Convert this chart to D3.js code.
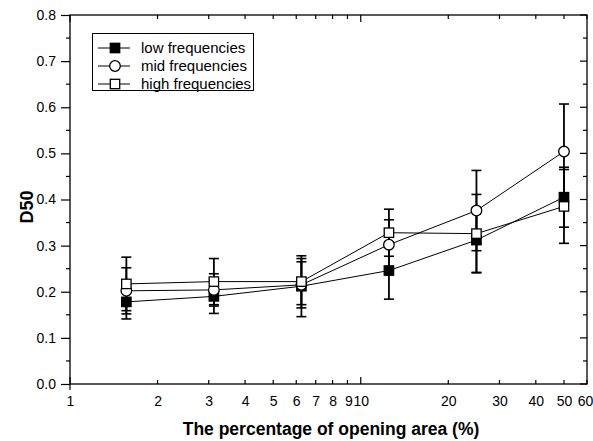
<!DOCTYPE html>
<html><head><meta charset="utf-8">
<script src="https://cdn.jsdelivr.net/npm/d3@7"></script>
<style>body{margin:0;background:#fff}svg{display:block}text{font-family:"Liberation Sans",Arial,sans-serif}</style>
</head><body><svg id="c" width="593" height="441"></svg>
<script>
const xVals = [1.5625, 3.125, 6.25, 12.5, 25, 50];
const low = [0.178, 0.190, 0.212, 0.246, 0.312, 0.405];
const lowErr = [0.037, 0.037, 0.066, 0.062, 0.070, 0.065];
const mid = [0.202, 0.204, 0.215, 0.302, 0.376, 0.504];
const midErr = [0.050, 0.035, 0.050, 0.054, 0.087, 0.103];
const high = [0.217, 0.222, 0.222, 0.328, 0.326, 0.385];
const highErr = [0.058, 0.050, 0.050, 0.051, 0.085, 0.080];
const seriesNames = ["low frequencies", "mid frequencies", "high frequencies"];
const xTicks = [1,2,3,4,5,6,7,8,9,10,20,30,40,50,60];
const yTicks = [0,0.1,0.2,0.3,0.4,0.5,0.6,0.7,0.8];
const yMinor = [0.05,0.15,0.25,0.35,0.45,0.55,0.65,0.75];

const L=70, R=587, T=15, B=384;
const svg = d3.select("#c");
const x = d3.scaleLog().domain([1,60]).range([L,R]);
const y = d3.scaleLinear().domain([0,0.8]).range([B,T]);

// frame
svg.append("rect").attr("x",L).attr("y",T).attr("width",R-L).attr("height",B-T)
  .attr("fill","none").attr("stroke","#000").attr("stroke-width",1.3);

// left axis
const yAxis = d3.axisLeft(y).tickValues(yTicks).tickSize(9).tickPadding(5).tickFormat(d3.format(".1f"));
const gy = svg.append("g").attr("transform",`translate(${L},0)`).call(yAxis);
gy.select(".domain").remove();
gy.selectAll("text").attr("font-size",14).attr("fill","#000");
gy.selectAll("line").attr("stroke-width",1.2);
svg.append("g").selectAll("line").data(yMinor).join("line")
  .attr("x1",L-4).attr("x2",L).attr("y1",d=>y(d)).attr("y2",d=>y(d)).attr("stroke","#000").attr("stroke-width",1.2);
// right axis ticks inward
svg.append("g").selectAll("line").data(yTicks.concat(yMinor)).join("line")
  .attr("x1",d=>R-(yTicks.includes(d)?7:4)).attr("x2",R).attr("y1",d=>y(d)).attr("y2",d=>y(d))
  .attr("stroke","#000").attr("stroke-width",1.2);

// bottom axis
const xAxis = d3.axisBottom(x).tickValues(xTicks).tickSize(0).tickPadding(12).tickFormat(d3.format("d"));
const gx = svg.append("g").attr("transform",`translate(0,${B})`).call(xAxis);
gx.select(".domain").remove();
gx.selectAll("text").attr("font-size",14).attr("fill","#000")
  .attr("dx",d=>d===60?-2:(d===9?1:0));
svg.append("g").selectAll("line").data(xTicks).join("line")
  .attr("x1",d=>x(d)).attr("x2",d=>x(d)).attr("y1",B).attr("y2",d=>B-((d===1||d===10)?7:4))
  .attr("stroke","#000").attr("stroke-width",1.2);
svg.append("line").attr("x1",L).attr("x2",L).attr("y1",B).attr("y2",B+6).attr("stroke","#000").attr("stroke-width",1.2);
// top axis ticks inward
svg.append("g").selectAll("line").data(xTicks).join("line")
  .attr("x1",d=>x(d)).attr("x2",d=>x(d)).attr("y1",T).attr("y2",d=>T+((d===1||d===10)?7:4))
  .attr("stroke","#000").attr("stroke-width",1.2);

// axis titles
svg.append("text").attr("x",331).attr("y",435).attr("text-anchor","middle")
  .attr("font-size",17.5).attr("font-weight","bold").text("The percentage of opening area (%)");
svg.append("text").attr("transform","translate(33,207) rotate(-90)").attr("text-anchor","middle")
  .attr("font-size",18).attr("font-weight","bold").text("D50");

const series = [
  {name:seriesNames[0], v:low, e:lowErr, shape:"fsq"},
  {name:seriesNames[1], v:mid, e:midErr, shape:"circ"},
  {name:seriesNames[2], v:high, e:highErr, shape:"osq"}
];

// error bars
series.forEach(s=>{
  const g = svg.append("g");
  xVals.forEach((xv,i)=>{
    const cx = x(xv), top=y(s.v[i]+s.e[i]), bot=y(s.v[i]-s.e[i]);
    g.append("line").attr("x1",cx).attr("x2",cx).attr("y1",top).attr("y2",bot).attr("stroke","#000").attr("stroke-width",1.8);
    [top,bot].forEach(yy=>g.append("line").attr("x1",cx-5).attr("x2",cx+5).attr("y1",yy).attr("y2",yy).attr("stroke","#000").attr("stroke-width",1.6));
  });
});
// lines
const line = d3.line().x((d,i)=>x(xVals[i])).y(d=>y(d));
series.forEach(s=>{
  svg.append("path").attr("d",line(s.v)).attr("fill","none").attr("stroke","#000").attr("stroke-width",1);
});
function marker(g, shape, cx, cy){
  if(shape==="circ") g.append("circle").attr("cx",cx).attr("cy",cy).attr("r",5.3).attr("fill","#fff").attr("stroke","#000").attr("stroke-width",1.3);
  else g.append("rect").attr("x",cx-4.7).attr("y",cy-4.7).attr("width",9.4).attr("height",9.4)
    .attr("fill",shape==="fsq"?"#000":"#fff").attr("stroke","#000").attr("stroke-width",1.3);
}
series.forEach(s=>{
  const g = svg.append("g");
  xVals.forEach((xv,i)=>marker(g,s.shape,x(xv),y(s.v[i])));
});

// legend
const lg = svg.append("g");
lg.append("rect").attr("x",92.5).attr("y",33.5).attr("width",161).attr("height",57)
  .attr("fill","#fff").attr("stroke","#000").attr("stroke-width",1);
series.forEach((s,i)=>{
  const yy = 48 + i*18;
  lg.append("line").attr("x1",98).attr("x2",130).attr("y1",yy).attr("y2",yy).attr("stroke","#000").attr("stroke-width",1);
  marker(lg,s.shape,115,yy);
  lg.append("text").attr("x",141).attr("y",yy+5).attr("font-size",15).text(s.name);
});
</script></body></html>
